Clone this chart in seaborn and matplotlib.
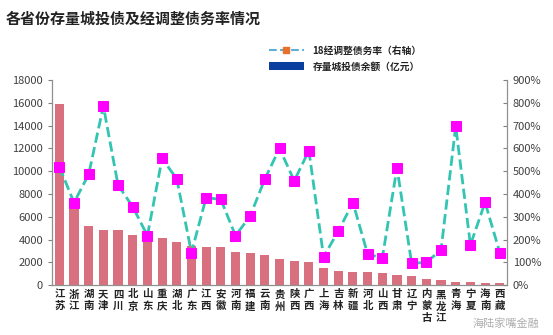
import numpy as np
import pandas as pd
import matplotlib
matplotlib.use("Agg")
import matplotlib.pyplot as plt
import seaborn as sns
from matplotlib.lines import Line2D
from matplotlib.patches import Patch
from matplotlib.ticker import FuncFormatter

provinces = ["江苏", "浙江", "湖南", "天津", "四川", "北京", "山东", "重庆", "湖北", "广东",
             "江西", "安徽", "河南", "福建", "云南", "贵州", "陕西", "广西", "上海", "吉林",
             "新疆", "河北", "山西", "甘肃", "辽宁", "内蒙古", "黑龙江", "青海", "宁夏", "海南", "西藏"]
debt_balance = [15900, 6900, 5180, 4830, 4830, 4390, 4200, 4100, 3800, 3400,
                3370, 3370, 2870, 2810, 2600, 2250, 2100, 1990, 1460, 1260,
                1170, 1110, 1080, 880, 820, 530, 470, 230, 230, 150, 150]
debt_ratio = [520, 362, 486, 786, 439, 344, 217, 556, 466, 143,
              384, 376, 217, 303, 466, 600, 458, 590, 124, 237,
              362, 136, 119, 515, 95, 100, 154, 698, 176, 363, 143]
left_ticks = list(range(0, 18001, 2000))
right_ticks = list(range(0, 901, 100))

sns.set_theme(style="white")
plt.rcParams['font.family'] = ['Noto Sans CJK SC', 'DejaVu Sans']
plt.rcParams['axes.unicode_minus'] = False

df = pd.DataFrame({"省份": provinces, "余额": debt_balance, "债务率": debt_ratio})

fig = plt.figure(figsize=(5.53, 3.35), dpi=100)
ax = fig.add_axes([0.094, 0.149, 0.823, 0.612])

sns.barplot(data=df, x="省份", y="余额", ax=ax, color="#D9707F", saturation=1,
            width=0.62, edgecolor="none")
ax.set_ylim(0, 18000)
ax.set_yticks(left_ticks)
ax.set_xlim(-0.5, len(provinces) - 0.5)
ax.set_xlabel("")
ax.set_ylabel("")
ax.set_xticks(range(len(provinces)))
ax.set_xticklabels(["\n".join(list(p)) for p in provinces], fontsize=7.5,
                   fontweight="bold", color="#222222", linespacing=1.25)
ax.tick_params(axis="x", length=0, pad=3)
ax.tick_params(axis="y", labelsize=8, labelcolor="#404040", length=3,
               direction="out", color="#808080", width=0.8, left=True)

ax2 = ax.twinx()
x_pos = np.arange(len(provinces))
sns.lineplot(x=x_pos, y=debt_ratio, ax=ax2, color="#33C4B2", linestyle="--",
             linewidth=2, marker="s", markersize=6.5, markerfacecolor="#FF00FF",
             markeredgecolor="#FF00FF", zorder=3)
ax2.set_ylim(0, 900)
ax2.set_yticks(right_ticks)
ax2.yaxis.set_major_formatter(FuncFormatter(lambda v, p: f"{int(v)}%"))
ax2.tick_params(axis="y", labelsize=8, labelcolor="#404040", length=3,
                direction="in", color="#808080", width=0.8, right=True, pad=4)
ax2.set_xlim(-0.5, len(provinces) - 0.5)

for a in (ax, ax2):
    a.spines["top"].set_visible(False)
    for s in ("left", "right", "bottom"):
        a.spines[s].set_color("#909090")
        a.spines[s].set_linewidth(0.9)
ax.spines["right"].set_visible(False)
ax2.spines["left"].set_visible(False)
ax2.spines["bottom"].set_visible(False)

fig.text(0.01, 0.945, "各省份存量城投债及经调整债务率情况", fontsize=10.8,
         fontweight="bold", color="#222222", va="center", ha="left")

handles = [
    Line2D([0], [0], color="#5AB0D8", linestyle="--", linewidth=1.5, marker="s",
           markersize=5, markerfacecolor="#E8702A", markeredgecolor="#E8702A"),
    Patch(facecolor="#0A3FA0", edgecolor="none"),
]
labels = ["18经调整债务率（右轴）", "存量城投债余额（亿元）"]
leg = fig.legend(handles, labels, loc="upper left", bbox_to_anchor=(0.47, 0.89),
                 frameon=False, fontsize=7, handlelength=3.6, handleheight=0.8,
                 labelspacing=0.6, handletextpad=0.9)
for t in leg.get_texts():
    t.set_fontweight("bold")
    t.set_color("#222222")

fig.text(0.975, 0.035, "海陆家嘴金融", fontsize=8, color="#9a9a9a", alpha=0.8,
         ha="right", va="center")

fig.savefig("out.png", dpi=100, facecolor="white")
